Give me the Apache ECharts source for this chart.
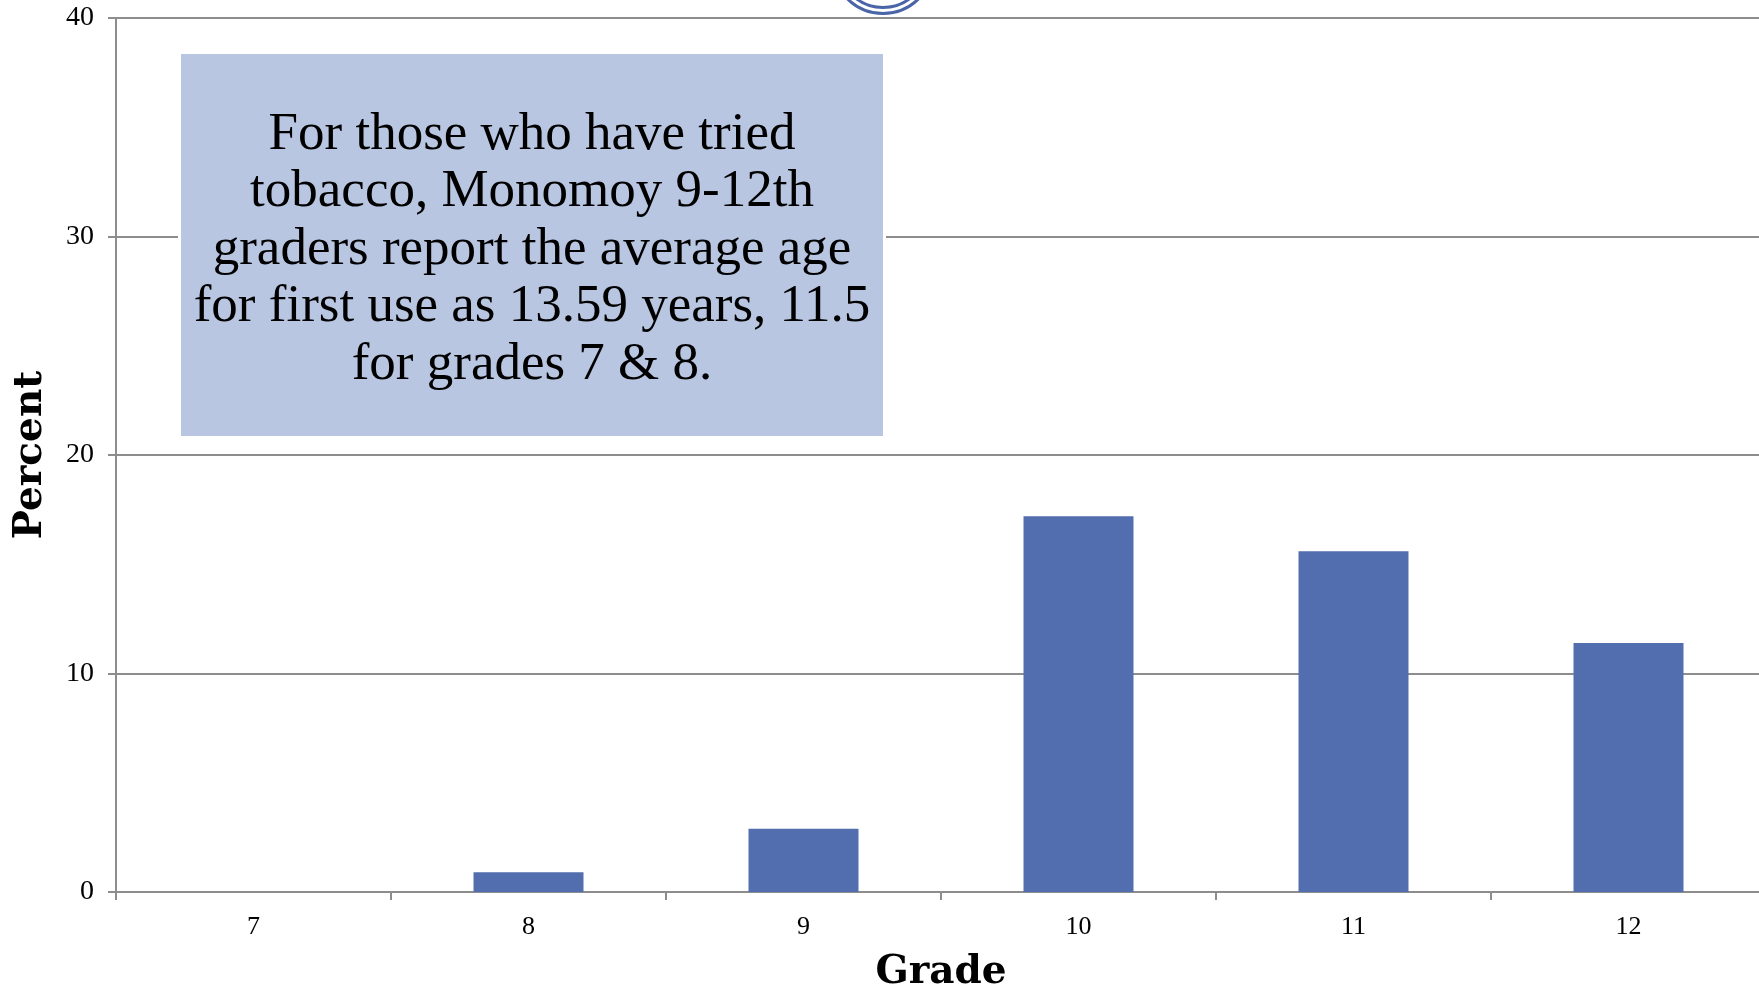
<!DOCTYPE html>
<html>
<head>
<meta charset="utf-8">
<style>
  html, body { margin: 0; padding: 0; background: #ffffff; overflow: hidden; }
  #chart { width: 1759px; height: 990px; }
</style>
<script src="https://cdn.jsdelivr.net/npm/echarts@6/dist/echarts.min.js"></script>
</head>
<body>
<div id="chart"></div>
<script>
// ---- data ----
const categories = ['7', '8', '9', '10', '11', '12'];
const percentValues = [0, 0.9, 2.9, 17.2, 15.6, 11.4];
const yMin = 0;
const yMax = 40;
const yInterval = 10;
const xAxisName = 'Grade';
const yAxisName = 'Percent';
const noteLines = [
  'For those who have tried',
  'tobacco, Monomoy 9-12th',
  'graders report the average age',
  'for first use as 13.59 years, 11.5',
  'for grades 7 & 8.'
];

// ---- styles ----
const gridColor = '#8d8d8d';
const barColor = '#526eaf';
const serif = '"Liberation Serif", "DejaVu Serif", serif';
const boldSerif = '"DejaVu Serif", "Liberation Serif", serif';

const chart = echarts.init(document.getElementById('chart'), null, { renderer: 'canvas' });

const option = {
  backgroundColor: '#ffffff',
  animation: false,
  grid: { left: 116, top: 18, width: 1650, height: 874, containLabel: false, outerBoundsMode: 'none' },
  xAxis: {
    type: 'category',
    data: categories,
    boundaryGap: true,
    name: xAxisName,
    nameLocation: 'middle',
    nameGap: 61,
    nameTextStyle: { fontFamily: boldSerif, fontWeight: 'bold', fontSize: 39, color: '#000' },
    axisLine: { show: true, lineStyle: { color: gridColor, width: 2 } },
    axisTick: { show: true, alignWithLabel: false, length: 8, lineStyle: { color: gridColor, width: 2 } },
    axisLabel: { fontFamily: serif, fontSize: 26, color: '#000', margin: 22 },
    splitLine: { show: false }
  },
  yAxis: {
    type: 'value',
    min: yMin,
    max: yMax,
    interval: yInterval,
    name: yAxisName,
    nameLocation: 'middle',
    nameGap: 66,
    nameRotate: 90,
    nameTextStyle: { fontFamily: boldSerif, fontWeight: 'bold', fontSize: 39, color: '#000' },
    axisLine: { show: true, lineStyle: { color: gridColor, width: 2 } },
    axisTick: { show: true, length: 8, lineStyle: { color: gridColor, width: 2 } },
    axisLabel: { fontFamily: serif, fontSize: 28, color: '#000', margin: 22 },
    splitLine: { show: true, lineStyle: { color: gridColor, width: 2 } }
  },
  series: [{
    type: 'bar',
    data: percentValues,
    barWidth: '40%',
    itemStyle: { color: barColor },
    z: 2
  }],
  graphic: [
    {
      type: 'circle', z: 100, silent: true,
      shape: { cx: 883, cy: -37, r: 50.5 },
      style: { fill: 'none', stroke: '#4a64a8', lineWidth: 3 }
    },
    {
      type: 'circle', z: 100, silent: true,
      shape: { cx: 883, cy: -37, r: 44.5 },
      style: { fill: 'none', stroke: '#4a64a8', lineWidth: 3 }
    },
    {
      type: 'rect', z: 100, silent: true,
      shape: { x: 178, y: 51, width: 708, height: 388 },
      style: { fill: '#ffffff' }
    },
    {
      type: 'rect', z: 101, silent: true,
      shape: { x: 181, y: 54, width: 702, height: 382 },
      style: { fill: '#b9c6e1' }
    },
    {
      type: 'text', z: 102, silent: true,
      style: {
        x: 532, y: 250,
        text: noteLines.join('\n'),
        font: '53px ' + serif,
        lineHeight: 57.5,
        fill: '#000',
        align: 'center',
        verticalAlign: 'middle'
      }
    }
  ]
};

chart.setOption(option);
</script>
</body>
</html>
